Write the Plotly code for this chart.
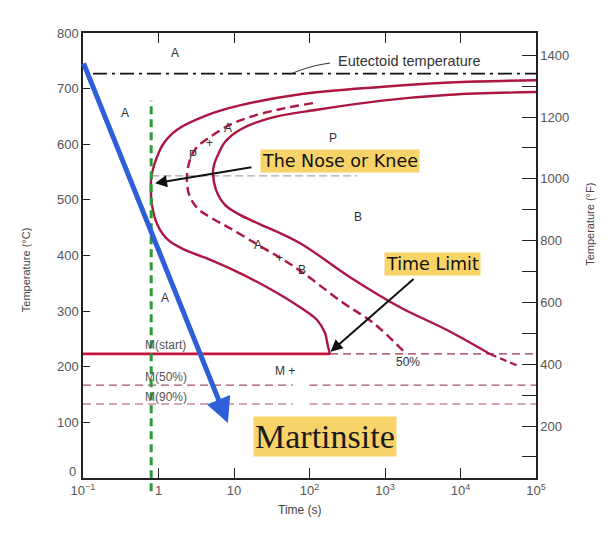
import math
import plotly.graph_objects as go

# ---------------- data ----------------
time_ticks = [0.1, 1, 10, 100, 1000, 10000, 100000]
time_tick_text = ["10<sup>\u22121</sup>", "1", "10", "10<sup>2</sup>", "10<sup>3</sup>", "10<sup>4</sup>", "10<sup>5</sup>"]
temp_c_ticks = [0, 100, 200, 300, 400, 500, 600, 700, 800]
temp_c_tick_text = ["", "100", "200", "300", "400", "500", "600", "700", "800"]
temp_f_ticks = [200, 400, 600, 800, 1000, 1200, 1400]

# transformation start curve (outer, solid)
start_t = [100000, 7260, 860, 75, 12, 5.2, 1.76, 1.15, 0.955, 0.845, 0.796,
           0.82, 0.97, 1.34, 2.24, 4.13, 9.7, 27.4, 75, 126, 160, 176, 187]
start_T = [715, 711, 703, 690, 670, 656, 626, 600, 577, 555, 535,
           491, 455, 428, 410, 396, 374, 343, 307, 284, 261, 236, 223]

# 50 % curve (dashed)
half_t = [111, 40.6, 16.3, 8.85, 4.81, 3.14, 2.61, 2.38,
          2.55, 3.33, 5.12, 8.85, 20.8, 40.6, 80, 278, 694, 1790]
half_T = [674, 663, 649, 635, 613, 593, 572, 541,
          509, 484, 467, 449, 419, 396, 370, 315, 279, 227]

# transformation finish curve (inner, solid)
finish_t = [100000, 7260, 860, 126, 30, 12, 7.6, 6.14, 5.44, 5.27,
            5.78, 7.6, 12, 21.5, 75, 344, 1580, 6620, 24500]
finish_T = [694, 689, 678, 662, 647, 626, 604, 581, 563, 550,
            518, 491, 473, 457, 422, 361, 307, 266, 223]
finish_tail_t = [24500, 38900, 61400]
finish_tail_T = [223, 212, 200]

eutectoid_T = 727
eutectoid_t = [0.1355, 100000]
leader_t = [55, 75, 117, 187]
leader_T = [726, 733, 741, 746]
ms_T = 223
ms_solid_t = [0.1, 187]
ms_dash_t = [187, 100000]
m50_T = 167
m90_T = 133
m_lines_t = [0.1, 60, None, 100, 100000]
nose_T = 543
nose_line_t = [0.8, 430]
quench_time = 0.8
cooling_t = [0.1, 8.3]
cooling_T = [748, 99]

# region labels: (text, time, temp)
region_labels = [("A", 1.66, 764), ("A", 0.36, 656), ("P", 205, 611), ("B", 439, 469),
                 ("A", 1.22, 324), ("P", 2.86, 581), ("+", 4.8, 602), ("A", 8.3, 629),
                 ("A", 20.8, 419), ("+", 40.6, 396), ("B", 80, 374), ("M +", 47, 192),
                 ("50%", 2020, 208)]
m_labels = [("M(start)", 0.62, 239), ("M(50%)", 0.62, 182), ("M(90%)", 0.62, 146)]

CRIMSON = "#ad1640"
DUSTY = "#a8506e"

fig = go.Figure()

def add_line(x, y, color, width, dash="solid", shape="linear"):
    fig.add_trace(go.Scatter(x=x, y=y, mode="lines", line=dict(color=color, width=width, dash=dash, shape=shape),
                             hoverinfo="skip", showlegend=False, connectgaps=False))

# eutectoid
add_line(eutectoid_t, [eutectoid_T] * 2, "#111111", 1.6, "14px,5px,3px,5px")
add_line(leader_t, leader_T, "#333333", 1, "solid", "spline")
# nose horizontal guide
add_line(nose_line_t, [nose_T] * 2, "#a8a8a8", 1.3, "8px,4px")
# martensite lines
add_line(m_lines_t, [m50_T] * 5, DUSTY, 1.2, "8px,5px")
add_line(m_lines_t, [m90_T] * 5, DUSTY, 1.2, "8px,5px")
add_line(ms_dash_t, [ms_T] * 2, "#9a3050", 1.3, "8px,5px")
add_line(ms_solid_t, [ms_T] * 2, "#c8143c", 2.8)
# curves
add_line(start_t, start_T, CRIMSON, 2.4, "solid", "spline")
add_line(half_t, half_T, CRIMSON, 2.4, "9px,5px", "spline")
add_line(finish_t, finish_T, CRIMSON, 2.4, "solid", "spline")
add_line(finish_tail_t, finish_tail_T, CRIMSON, 2.2, "7px,4px")
# dummy trace for secondary axis
fig.add_trace(go.Scatter(x=[1], y=[500], yaxis="y2", mode="markers", marker=dict(opacity=0),
                         hoverinfo="skip", showlegend=False))

# labels
for txt, t, T in region_labels:
    fig.add_annotation(x=math.log10(t), y=T, text=txt, showarrow=False,
                       font=dict(family="Liberation Sans", size=12, color="#333"))
for txt, t, T in m_labels:
    fig.add_annotation(x=math.log10(t), y=T, text=txt, showarrow=False, xanchor="left",
                       font=dict(family="Liberation Sans", size=12, color="#555"))
fig.add_annotation(x=math.log10(2140), y=750, text="Eutectoid temperature", showarrow=False,
                   font=dict(family="Liberation Sans", size=14.5, color="#333"))

# zero label of the left axis, lifted slightly above the corner
fig.add_annotation(xref="paper", x=-0.012, xanchor="right", y=12, yref="y", text="0", showarrow=False,
                   font=dict(family="Liberation Sans", size=13, color="#555"))

# quench line (green dashed)
fig.add_shape(type="line", xref="x", yref="paper", x0=quench_time, x1=quench_time, y0=-0.03, y1=0.848,
              line=dict(color="#2e9a36", width=3, dash="8px,5px"), layer="above")

# cooling arrow (blue)
fig.add_annotation(x=math.log10(cooling_t[1]), y=cooling_T[1], ax=math.log10(cooling_t[0]), ay=cooling_T[0],
                   axref="x", ayref="y", xref="x", yref="y", text="", showarrow=True,
                   arrowhead=2, arrowsize=1.0, arrowwidth=5, arrowcolor="#2f5fd8")

# nose arrow
fig.add_annotation(x=math.log10(0.9), y=530, ax=math.log10(17.8), ay=559, axref="x", ayref="y",
                   text="", showarrow=True, arrowhead=2, arrowsize=1.2, arrowwidth=2, arrowcolor="#111")
fig.add_annotation(x=math.log10(254), y=570, text="The Nose or Knee", showarrow=False,
                   bgcolor="#f8d36a", borderpad=1,
                   font=dict(family="DejaVu Sans", size=17.5, color="#111"))
# time limit arrow
fig.add_annotation(x=math.log10(190), y=227, ax=math.log10(2500), ay=360, axref="x", ayref="y",
                   text="", showarrow=True, arrowhead=2, arrowsize=1.2, arrowwidth=2, arrowcolor="#111")
fig.add_annotation(x=math.log10(4200), y=385, text="Time Limit", showarrow=False,
                   bgcolor="#f8d36a", borderpad=1,
                   font=dict(family="DejaVu Sans", size=17.5, color="#111"))
# Martinsite
fig.add_annotation(x=math.log10(160), y=74, text="Martinsite", showarrow=False,
                   bgcolor="#f8d36a", borderpad=1,
                   font=dict(family="Liberation Serif", size=34, color="#1a1a1a"))

# axis titles
fig.add_annotation(xref="paper", yref="paper", x=-0.1435, y=0.467, text="Temperature (\u00b0C)",
                   textangle=-90, showarrow=False, font=dict(family="Liberation Sans", size=11, color="#444"))
fig.add_annotation(xref="paper", yref="paper", x=1.137, y=0.569, text="Temperature (\u00b0F)",
                   textangle=-90, showarrow=False, font=dict(family="Liberation Sans", size=11, color="#444"))
fig.add_annotation(xref="paper", yref="paper", x=0.479, y=-0.092, text="Time (s)",
                   showarrow=False, font=dict(family="Liberation Sans", size=12, color="#444"))

tickfont = dict(family="Liberation Sans", size=13, color="#555")
fig.update_layout(
    width=603, height=525,
    margin=dict(l=75, r=75, t=25, b=55),
    paper_bgcolor="white", plot_bgcolor="white",
    showlegend=False,
    xaxis=dict(type="log", range=[-1, 5], tickvals=time_ticks, ticktext=time_tick_text,
               ticks="inside", ticklen=10, tickcolor="#222", showline=True, linecolor="#222",
               linewidth=1.5, mirror="ticks", showgrid=False, zeroline=False, tickfont=tickfont),
    yaxis=dict(range=[0, 800], tickvals=temp_c_ticks, ticktext=temp_c_tick_text, ticks="inside",
               ticklen=7, tickcolor="#222", showline=True, linecolor="#222", linewidth=1.5,
               showgrid=False, zeroline=False, tickfont=tickfont),
    yaxis2=dict(range=[32, 1472], overlaying="y", side="right", anchor="x", tickvals=temp_f_ticks,
                ticks="inside", ticklen=14, tickcolor="#222", showline=True, linecolor="#222",
                linewidth=1.5, showgrid=False, zeroline=False, tickfont=tickfont,
                minor=dict(dtick=100, tick0=0, ticks="inside", ticklen=14, tickcolor="#222")),
)

fig.write_html("out.html")
